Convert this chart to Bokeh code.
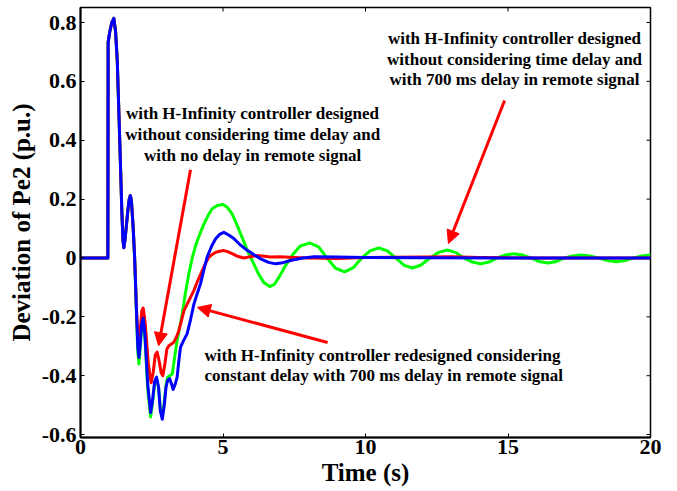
import math
from bokeh.plotting import figure
from bokeh.models import FixedTicker, Arrow, NormalHead
from bokeh.core.properties import value
from bokeh.embed import file_html
from bokeh.resources import INLINE

# ---------------- data ----------------
t_green = [0, 0.96, 0.97, 1.03, 1.10, 1.17, 1.23, 1.29, 1.38, 1.45, 1.49, 1.52, 1.56, 1.66, 1.71, 1.75, 1.79, 1.85,
           1.90, 1.96, 2.01, 2.05, 2.10, 2.15, 2.20, 2.26, 2.36, 2.46, 2.52, 2.60, 2.67, 2.74, 2.80, 2.87, 2.94,
           3.00, 3.06, 3.13, 3.22, 3.30, 3.39, 3.48, 3.57, 3.68, 3.80, 3.92, 4.04, 4.18, 4.33, 4.48, 4.62, 4.80,
           5.00, 5.15, 5.32, 5.50, 5.67, 5.88, 6.08, 6.25, 6.43, 6.64, 6.80, 6.96, 7.20, 7.45, 7.70, 8.04, 8.35,
           8.65, 8.95, 9.27, 9.57, 9.87, 10.17, 10.47, 10.77, 11.06, 11.36, 11.65, 11.95, 12.26, 12.57, 12.87,
           13.16, 13.45, 13.75, 14.04, 14.33, 14.62, 14.91, 15.20, 15.50, 15.80, 16.10, 16.40, 16.70, 16.98,
           17.27, 17.55, 17.86, 18.18, 18.50, 18.80, 19.10, 19.40, 19.70, 20.0]
v_green = [0, 0, 0.733, 0.77, 0.80, 0.814, 0.77, 0.67, 0.39, 0.16, 0.06, 0.035, 0.06, 0.16, 0.20, 0.212, 0.19, 0.10,
           0.0, -0.18, -0.32, -0.36, -0.30, -0.23, -0.21, -0.27, -0.45, -0.54, -0.50, -0.43, -0.41, -0.44, -0.51,
           -0.535, -0.49, -0.43, -0.405, -0.40, -0.394, -0.34, -0.28, -0.235, -0.19, -0.12, -0.054, 0.0, 0.042,
           0.08, 0.115, 0.145, 0.167, 0.178, 0.182, 0.172, 0.15, 0.11, 0.07, 0.02, -0.02, -0.055, -0.083, -0.097,
           -0.09, -0.066, -0.025, 0.012, 0.04, 0.051, 0.038, 0.0, -0.035, -0.047, -0.033, 0.0, 0.025, 0.034, 0.024,
           0.0, -0.025, -0.034, -0.024, 0.0, 0.019, 0.027, 0.019, 0.0, -0.014, -0.02, -0.014, 0.0, 0.01, 0.014,
           0.01, 0.0, -0.012, -0.017, -0.012, 0.0, 0.007, 0.01, 0.007, 0.0, -0.009, -0.013, -0.009, 0.0, 0.007, 0.01]

t_red = [0, 0.96, 0.97, 1.03, 1.10, 1.17, 1.23, 1.29, 1.38, 1.45, 1.49, 1.52, 1.56, 1.66, 1.71, 1.75, 1.79, 1.85,
         1.90, 1.96, 2.01, 2.05, 2.10, 2.15, 2.20, 2.27, 2.38, 2.48, 2.55, 2.62, 2.69, 2.76, 2.83, 2.89, 2.96,
         3.03, 3.10, 3.27, 3.36, 3.45, 3.55, 3.63, 3.75, 3.86, 3.98, 4.09, 4.18, 4.27, 4.38, 4.50, 4.62, 4.74,
         4.88, 5.03, 5.18, 5.32, 5.50, 5.73, 5.95, 6.20, 6.45, 6.67, 7.0, 7.5, 8.0, 9.0, 10.0, 12.0, 13.0, 14.0,
         16.0, 20.0]
v_red = [0, 0, 0.733, 0.77, 0.80, 0.814, 0.77, 0.67, 0.39, 0.16, 0.06, 0.035, 0.06, 0.16, 0.20, 0.212, 0.19, 0.10,
         0.0, -0.16, -0.27, -0.29, -0.24, -0.18, -0.17, -0.22, -0.36, -0.424, -0.39, -0.33, -0.32, -0.35, -0.39,
         -0.40, -0.36, -0.31, -0.298, -0.287, -0.27, -0.247, -0.21, -0.179, -0.155, -0.134, -0.11, -0.083, -0.063,
         -0.043, -0.02, 0.002, 0.012, 0.019, 0.023, 0.025, 0.021, 0.015, 0.006, 0.0, 0.004, 0.008, 0.006, 0.003,
         0.004, 0.002, 0.0, -0.002, 0.002, 0.003, 0.004, 0.002, 0.0, 0.0]

t_blue = [0, 0.96, 0.97, 1.03, 1.10, 1.17, 1.23, 1.29, 1.38, 1.45, 1.49, 1.52, 1.56, 1.66, 1.71, 1.75, 1.79, 1.85,
          1.90, 1.96, 2.01, 2.05, 2.10, 2.15, 2.20, 2.26, 2.36, 2.46, 2.52, 2.60, 2.67, 2.74, 2.80, 2.87, 2.94,
          3.00, 3.06, 3.13, 3.20, 3.25, 3.32, 3.39, 3.45, 3.51, 3.62, 3.74, 3.86, 3.98, 4.10, 4.21, 4.33, 4.44,
          4.60, 4.74, 4.88, 5.03, 5.20, 5.38, 5.60, 5.85, 6.10, 6.32, 6.60, 6.85, 7.10, 7.40, 7.80, 8.20, 9.0,
          10.0, 12.0, 15.0, 20.0]
v_blue = [0, 0, 0.733, 0.77, 0.80, 0.814, 0.77, 0.67, 0.39, 0.16, 0.06, 0.035, 0.06, 0.16, 0.20, 0.212, 0.19, 0.10,
          0.0, -0.17, -0.30, -0.338, -0.29, -0.22, -0.205, -0.26, -0.43, -0.525, -0.49, -0.42, -0.405, -0.44,
          -0.52, -0.548, -0.50, -0.44, -0.415, -0.41, -0.43, -0.447, -0.43, -0.405, -0.35, -0.303, -0.28, -0.258,
          -0.21, -0.156, -0.12, -0.088, -0.04, 0.002, 0.04, 0.065, 0.08, 0.087, 0.078, 0.066, 0.045, 0.026, 0.01,
          -0.003, -0.015, -0.02, -0.016, -0.008, 0.0, 0.004, 0.003, 0.002, 0.001, 0.0, 0.0]

x_ticks = [0, 5, 10, 15, 20]
y_ticks = [-0.6, -0.4, -0.2, 0, 0.2, 0.4, 0.6, 0.8]
y_tick_labels = ["-0.6", "-0.4", "-0.2", "0", "0.2", "0.4", "0.6", "0.8"]

note1_lines = ["with H-Infinity controller designed",
               "without considering time delay and",
               "with no delay in remote signal"]
note2_lines = ["with H-Infinity controller designed",
               "without considering time delay and",
               "with 700 ms delay in remote signal"]
note3_lines = ["with H-Infinity controller redesigned considering",
               "constant delay with 700 ms delay in remote signal"]

# ---------------- figure ----------------
SERIF = "Liberation Serif"
X0, X1 = 0, 20
Y0, Y1 = -0.61, 0.851

p = figure(width=668, height=491, x_range=(X0, X1), y_range=(Y0, Y1),
           output_backend="svg", toolbar_location=None,
           min_border_left=80, min_border_right=18, min_border_top=7, min_border_bottom=54,
           x_axis_label="Time (s)", y_axis_label="Deviation of Pe2 (p.u.)")
p.grid.visible = False
p.outline_line_color = "black"
p.outline_line_width = 1.5
p.background_fill_color = "white"

for ax in (p.xaxis[0], p.yaxis[0]):
    ax.major_label_text_font = SERIF
    ax.major_label_text_font_style = "bold"
    ax.major_label_text_font_size = "22px"
    ax.major_label_text_color = "black"
    ax.axis_label_text_font = SERIF
    ax.axis_label_text_font_style = "bold"
    ax.axis_label_text_font_size = "25px"
    ax.axis_label_text_color = "black"
    ax.major_tick_in = 4
    ax.major_tick_out = 0
    ax.minor_tick_line_color = None
    ax.axis_line_width = 2
    ax.axis_line_color = "black"
    ax.major_tick_line_color = "black"

p.xaxis[0].major_label_standoff = 2
p.xaxis[0].axis_label_standoff = 2
p.yaxis[0].major_label_standoff = 4
p.yaxis[0].axis_label_standoff = 4

p.xaxis[0].ticker = FixedTicker(ticks=x_ticks)
p.yaxis[0].ticker = FixedTicker(ticks=y_ticks)
p.yaxis[0].major_label_overrides = {t: l for t, l in zip(y_ticks, y_tick_labels)}

# mirrored inward ticks on the top and right edges (clipped to the frame)
p.scatter(x=x_ticks, y=[Y1] * len(x_ticks), marker="dash", angle=math.pi / 2, size=8,
          line_color="black", line_width=1)
p.scatter(x=[X1] * len(y_ticks), y=y_ticks, marker="dash", size=8,
          line_color="black", line_width=1)

# ---------------- curves ----------------
p.line(t_green, v_green, line_color="#00ff00", line_width=3, line_join="round")
p.line(t_red, v_red, line_color="#ff0000", line_width=3, line_join="round")
p.line(t_blue, v_blue, line_color="#0000ff", line_width=3, line_join="round")

# ---------------- annotations ----------------
def add_lines(lines, x, y0, dy, align):
    p.text(x=[x] * len(lines), y=[y0 - i * dy for i in range(len(lines))], text=lines,
           text_font=value(SERIF), text_font_style="bold", text_font_size="17px",
           text_color="black", text_align=align, text_baseline="middle")

add_lines(note1_lines, 6.04, 0.491, 0.0715, "center")
add_lines(note2_lines, 15.23, 0.746, 0.070, "center")
add_lines(note3_lines, 4.35, -0.333, 0.068, "left")

arrows = [((3.86, 0.300), (2.74, -0.298)),
          ((8.67, -0.287), (4.10, -0.168)),
          ((14.88, 0.535), (12.91, 0.049))]
for (xs, ys), (xe, ye) in arrows:
    p.add_layout(Arrow(end=NormalHead(size=13, fill_color="red", line_color="red"),
                       x_start=xs, y_start=ys, x_end=xe, y_end=ye,
                       line_color="red", line_width=3))

open("out.html", "w").write(file_html(p, INLINE))
